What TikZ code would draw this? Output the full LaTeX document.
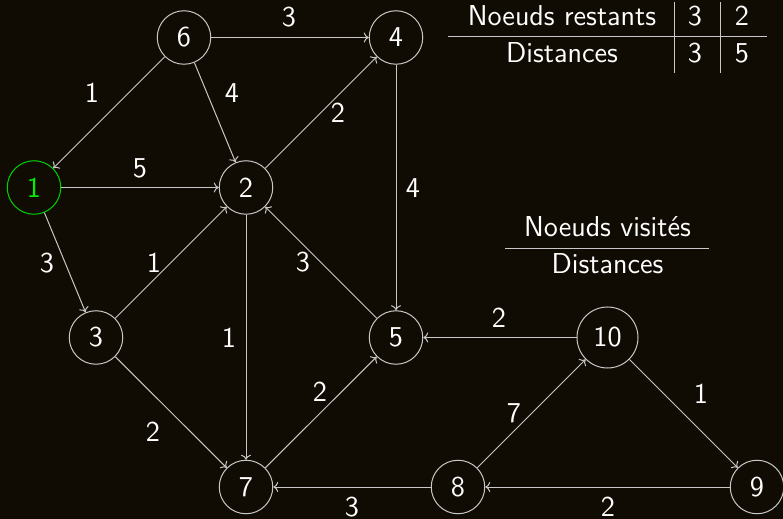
\documentclass[tikz,border=0pt]{standalone}
\usetikzlibrary{arrows.meta}
\definecolor{bg}{HTML}{110C03}
\definecolor{ln}{HTML}{C8C8C8}
\definecolor{grn}{HTML}{00D400}
\definecolor{grntxt}{HTML}{00F000}
\begin{document}
\begin{tikzpicture}[x=0.5pt,y=-0.5pt,
  font=\sffamily\fontsize{14.4}{17}\selectfont,
  vertex/.style={circle,draw=ln,line width=0.5pt,text=white,inner sep=0pt,minimum size=26.75pt},
  startv/.style={vertex,draw=grn,text=grntxt},
  edge/.style={draw=ln,line width=0.5pt,-{To[length=2.5pt,width=5pt]}},
  lab/.style={text=white,inner sep=0pt},
  tabtxt/.style={text=white,inner sep=0pt,anchor=base},
  rule/.style={draw=ln,line width=0.5pt}]
\fill[bg] (0,0) rectangle (783,519);
\useasboundingbox (0,0) rectangle (783,519);
% nodes
\node[startv] (n1) at (34,187.5) {1};
\node[vertex] (n2) at (246,187.5) {2};
\node[vertex] (n3) at (96,337.5) {3};
\node[vertex] (n4) at (396,37.5) {4};
\node[vertex] (n5) at (396,337.5) {5};
\node[vertex] (n6) at (184,37.5) {6};
\node[vertex] (n7) at (246,487) {7};
\node[vertex] (n8) at (458,487) {8};
\node[vertex] (n9) at (757,487) {9};
\node[vertex,minimum size=30.5pt] (n10) at (607.5,337.5) {10};
% edges
\draw[edge] (n6) -- (n4);
\draw[edge] (n6) -- (n1);
\draw[edge] (n6) -- (n2);
\draw[edge] (n2) -- (n4);
\draw[edge] (n1) -- (n2);
\draw[edge] (n1) -- (n3);
\draw[edge] (n3) -- (n2);
\draw[edge] (n4) -- (n5);
\draw[edge] (n5) -- (n2);
\draw[edge] (n2) -- (n7);
\draw[edge] (n3) -- (n7);
\draw[edge] (n7) -- (n5);
\draw[edge] (n10) -- (n5);
\draw[edge] (n8) -- (n10);
\draw[edge] (n10) -- (n9);
\draw[edge] (n8) -- (n7);
\draw[edge] (n9) -- (n8);
% edge labels
\node[lab] (w64) at (289,17) {3};
\node[lab] (w24) at (338,113) {2};
\node[lab] (w61) at (92,93) {1};
\node[lab] (w62) at (232,93) {4};
\node[lab] (w12) at (140,168) {5};
\node[lab] (w13) at (47,263) {3};
\node[lab] (w32) at (154,263) {1};
\node[lab] (w45) at (413,188) {4};
\node[lab] (w52) at (303,262) {3};
\node[lab] (w27) at (229,338) {1};
\node[lab] (w75) at (320,392) {2};
\node[lab] (w37) at (153,432) {2};
\node[lab] (w87) at (352,507) {3};
\node[lab] (w105) at (499,318) {2};
\node[lab] (w810) at (514,413) {7};
\node[lab] (w109) at (701,394) {1};
\node[lab] (w98) at (608,507) {2};
% table: remaining nodes
\node[tabtxt] (trh) at (562,26) {Noeuds restants};
\node[tabtxt] (tra) at (695,26) {3};
\node[tabtxt] (trb) at (742,26) {2};
\node[tabtxt] (tdh) at (562,63) {Distances};
\node[tabtxt] (tda) at (695,63) {3};
\node[tabtxt] (tdb) at (742,63) {5};
\draw[rule] (448,37) -- (767,37);
\draw[rule] (674,2) -- (674,73);
\draw[rule] (720,2) -- (720,73);
% visited nodes
\node[tabtxt] (vh) at (607.5,236) {Noeuds visités};
\node[tabtxt] (vd) at (607.5,273) {Distances};
\draw[rule] (505,249) -- (709,249);
\end{tikzpicture}
\end{document}
